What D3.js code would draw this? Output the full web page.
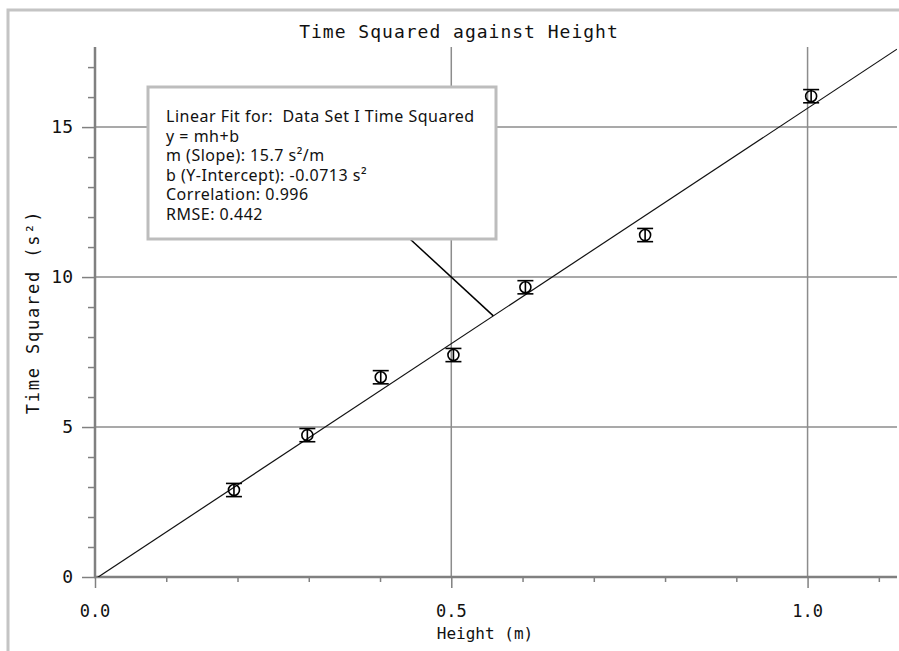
<!DOCTYPE html>
<html lang="en">
<head>
  <meta charset="UTF-8">
  <title>Time Squared against Height</title>
  <style>
    body { margin: 0; background: #ffffff; }
    #thesvg { width: 899px; height: 651px; display: block; }
    .mono { font-family: "DejaVu Sans Mono", monospace; fill: #111; }
    .box text { font-family: "Noto Sans", Arial, sans-serif; font-size: 16px; letter-spacing: 0.5px; fill: #111; white-space: pre; }
  </style>
</head>
<body>
  <svg id="thesvg"></svg>
  <script src="https://d3js.org/d3.v7.min.js"></script>
  <script>

    // measured data (height in m, time squared in s^2)
    var heights = [0.195, 0.298, 0.401, 0.503, 0.604, 0.772, 1.005];
    var timeSq  = [2.90, 4.73, 6.66, 7.40, 9.66, 11.40, 16.03];
    var errY    = [0.22, 0.22, 0.22, 0.22, 0.22, 0.22, 0.22];

    // linear fit
    var slope = 15.7, intercept = -0.0713;
    var fitText = [
      "Linear Fit for:  Data Set I Time Squared",
      "y = mh+b",
      "m (Slope): 15.7 s\u00b2/m",
      "b (Y-Intercept): -0.0713 s\u00b2",
      "Correlation: 0.996",
      "RMSE: 0.442"
    ];
    var pointerH = 0.559;

    var xMajor = [0.0, 0.5, 1.0];
    var yMajor = [0, 5, 10, 15];

    var svg = d3.select("svg");
    // plot edges (don't use "top" - clashes with window.top)
    var pL = 95, pR = 897, pT = 47, pB = 577;

    var x = d3.scaleLinear().domain([0, 1.1255]).range([pL, pR]);
    var y = d3.scaleLinear().domain([0, 17.67]).range([pB, pT]);

    // outer frame
    svg.append("rect")
      .attr("x", 8).attr("y", 10).attr("width", 1000).attr("height", 1000)
      .attr("fill", "none").attr("stroke", "#c4c4c4").attr("stroke-width", 3);

    // grid
    svg.append("g").selectAll("line")
      .data(yMajor.slice(1)).enter().append("line")
      .attr("x1", pL).attr("x2", pR)
      .attr("y1", d => y(d)).attr("y2", d => y(d))
      .attr("stroke", "#8c8c8c").attr("stroke-width", 1.5);
    svg.append("g").selectAll("line")
      .data(xMajor.slice(1)).enter().append("line")
      .attr("x1", d => x(d)).attr("x2", d => x(d))
      .attr("y1", pT).attr("y2", pB)
      .attr("stroke", "#8c8c8c").attr("stroke-width", 1.5);

    // axes
    var xAxis = d3.axisBottom(x).tickValues(d3.range(0, 1.15, 0.1)).tickSize(5).tickFormat("");
    var yAxis = d3.axisLeft(y).tickValues(d3.range(0, 18, 1)).tickSize(7).tickFormat("");
    var gx = svg.append("g").attr("transform", "translate(0," + pB + ")").call(xAxis);
    var gy = svg.append("g").attr("transform", "translate(" + pL + ",0)").call(yAxis);
    [gx, gy].forEach(function(g) {
      g.select(".domain").remove();
      g.selectAll("line").attr("stroke", "#808080").attr("stroke-width", 1.5);
    });
    gx.selectAll(".tick line").filter(d => Math.abs(d * 2 - Math.round(d * 2)) < 1e-6).attr("y2", 11);
    gy.selectAll(".tick line").filter(d => d % 5 === 0).attr("x2", -13);

    svg.append("line").attr("x1", pL).attr("x2", pL).attr("y1", pT).attr("y2", pB + 1)
      .attr("stroke", "#808080").attr("stroke-width", 2.5);
    svg.append("line").attr("x1", pL - 1).attr("x2", pR).attr("y1", pB).attr("y2", pB)
      .attr("stroke", "#808080").attr("stroke-width", 2.5);

    // tick labels
    svg.append("g").selectAll("text")
      .data(yMajor).enter().append("text")
      .attr("class", "mono").attr("font-size", 18)
      .attr("x", 73).attr("y", d => y(d) + 6)
      .attr("text-anchor", "end")
      .text(d => d);
    svg.append("g").selectAll("text")
      .data(xMajor).enter().append("text")
      .attr("class", "mono").attr("font-size", 17)
      .attr("x", d => x(d)).attr("y", 617)
      .attr("text-anchor", "middle")
      .text(d => d3.format(".1f")(d));

    // titles
    svg.append("text").attr("class", "mono").attr("font-size", 18).attr("letter-spacing", 1)
      .attr("x", 459).attr("y", 38).attr("text-anchor", "middle")
      .text("Time Squared against Height");
    svg.append("text").attr("class", "mono").attr("font-size", 16)
      .attr("x", 485).attr("y", 639).attr("text-anchor", "middle")
      .text("Height (m)");
    svg.append("text").attr("class", "mono").attr("font-size", 17).attr("letter-spacing", 1.8)
      .attr("transform", "translate(39,312) rotate(-90)").attr("text-anchor", "middle")
      .text("Time Squared (s\u00b2)");

    // fit line
    svg.append("defs").append("clipPath").attr("id", "plotclip")
      .append("rect").attr("x", pL).attr("y", pT - 5).attr("width", pR - pL).attr("height", pB - pT + 5);
    var fitX = [0, x.domain()[1]];
    svg.append("path")
      .attr("clip-path", "url(#plotclip)")
      .attr("d", d3.line().x(d => x(d)).y(d => y(slope * d + intercept))(fitX))
      .attr("stroke", "#111").attr("stroke-width", 1.2).attr("fill", "none");

    // points with error bars
    var pts = svg.append("g").selectAll("g")
      .data(heights.map((h, i) => ({ h: h, t: timeSq[i], e: errY[i] })))
      .enter().append("g")
      .attr("stroke", "#000").attr("stroke-width", 1.6).attr("fill", "none");
    pts.append("line")
      .attr("x1", d => x(d.h)).attr("x2", d => x(d.h))
      .attr("y1", d => y(d.t + d.e)).attr("y2", d => y(d.t - d.e));
    pts.append("line")
      .attr("x1", d => x(d.h) - 8).attr("x2", d => x(d.h) + 8)
      .attr("y1", d => y(d.t + d.e)).attr("y2", d => y(d.t + d.e));
    pts.append("line")
      .attr("x1", d => x(d.h) - 8).attr("x2", d => x(d.h) + 8)
      .attr("y1", d => y(d.t - d.e)).attr("y2", d => y(d.t - d.e));
    pts.append("circle")
      .attr("cx", d => x(d.h)).attr("cy", d => y(d.t)).attr("r", 5.5);

    // annotation box
    var bx = 148, by = 87, bw = 348, bh = 152;
    svg.append("line")
      .attr("x1", 410).attr("y1", by + bh)
      .attr("x2", x(pointerH)).attr("y2", y(slope * pointerH + intercept))
      .attr("stroke", "#000").attr("stroke-width", 1.5);
    var box = svg.append("g").attr("class", "box");
    box.append("rect")
      .attr("x", bx).attr("y", by).attr("width", bw).attr("height", bh)
      .attr("fill", "#fff").attr("stroke", "#bdbdbd").attr("stroke-width", 3);
    box.selectAll("text")
      .data(fitText).enter().append("text")
      .attr("x", 166).attr("y", (d, i) => 122 + i * 19.5)
      .text(d => d);
  </script>
</body>
</html>
